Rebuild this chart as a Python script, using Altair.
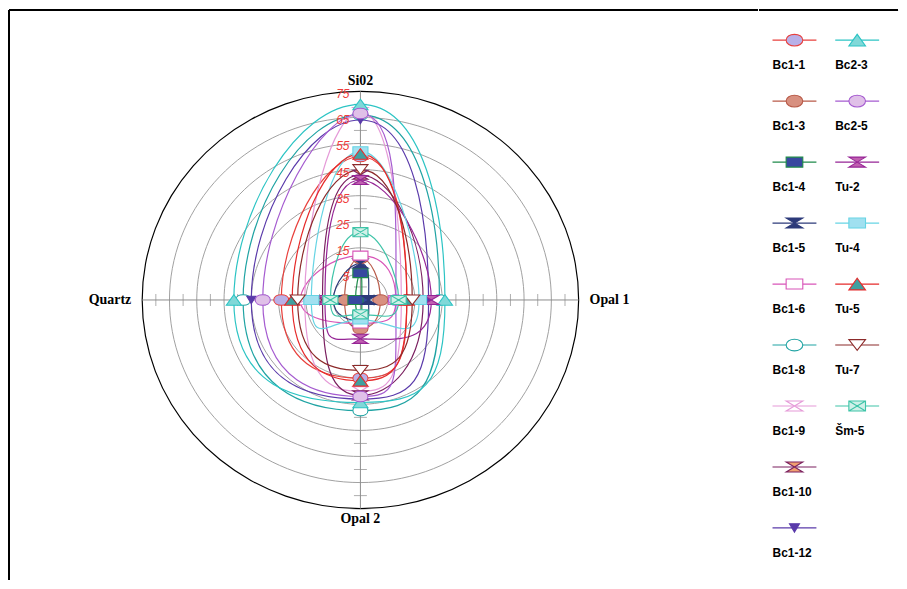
import altair as alt
import pandas as pd

# ---------------- data ----------------
series = ["Bc1-1", "Bc1-3", "Bc1-4", "Bc1-5", "Bc1-6", "Bc1-8", "Bc1-9", "Bc1-10", "Bc1-12",
          "Bc2-3", "Bc2-5", "Tu-2", "Tu-4", "Tu-5", "Tu-7", "Šm-5"]
sio2   = [50, 11, 5.3, 9, 12, 66, 67, 43, 64, 70, 66.5, 41, 52, 51, 45, 21]
opal1  = [12, 2.3, -4.5, -2, 8, 24, 10, 18, 20, 26, 8, 21, 16.5, 12, 14, 9]
opal2  = [25, 6, 1, 3, 4, 37.4, 30, 31.6, 33, 34.3, 32, 9.9, 2.5, 26, 22, 0.5]
quartz = [24, 0.8, -3.2, 4.9, 17, 38, 15.4, 8.9, 35, 41.4, 30.8, 8, 13, 20, 18, 6]

line_colors = ["#e8403c", "#b85a48", "#1e8a4a", "#2c3a7a", "#d855b8", "#1fa3a3", "#e59ad8",
               "#7a1f5f", "#5a3aaa", "#2cc4c4", "#a55bd0", "#962496", "#66d4e4", "#e62a2a",
               "#8c2a2a", "#3ec4a8"]
fill_colors = ["#b8b0e8", "#d89080", "#3848a0", "#2c3a7a", "#ffffff", "#ffffff", "#ffffff",
               "#f0a070", "#5a3aaa", "#80d8d8", "#e0c0e8", "#c060b0", "#a0e0f0", "#40a0a0",
               "#ffffff", "#d0f0e8"]

ELLIPSE = "M-1,0C-1,-0.93 1,-0.93 1,0C1,0.93 -1,0.93 -1,0Z"
RECT = "M-1,-0.6L1,-0.6L1,0.6L-1,0.6Z"
TRI_UP = "M-1,0.7L1,0.7L0,-0.7Z"
TRI_DOWN_S = "M-0.6,-0.5L0.6,-0.5L0,0.5Z"
TRI_DOWN = "M-1,-0.65L1,-0.65L0,0.65Z"
HOURGLASS = "M-1,-0.6L1,-0.6L-1,0.6L1,0.6Z"
RECT_X = "M-1,-0.6L1,-0.6L1,0.6L-1,0.6Z M-1,-0.6L1,0.6M1,-0.6L-1,0.6"
shapes = [ELLIPSE, ELLIPSE, RECT, HOURGLASS, RECT, ELLIPSE, HOURGLASS, HOURGLASS, TRI_DOWN_S,
          TRI_UP, ELLIPSE, HOURGLASS, RECT, TRI_UP, TRI_DOWN, RECT_X]

axis_names = ["Si02", "Opal 1", "Opal 2", "Quartz"]
axis_angles = [90, 0, 270, 180]
axis_align = ["center", "left", "center", "right"]

ring_values = [5, 15, 25, 35, 45, 55, 65, 75]
ring_labels = ["5", "15", "25", "35", "45", "55", "65", "75"]
ring_angles = list(range(0, 360, 10))
tick_values = [0, 10, 20, 30, 40, 50, 60, 70]
R0 = -5           # value at the centre
TITLE_R = 84      # radial position of axis titles (units from centre)

legend_col = [0] * 9 + [1] * 7
legend_row = list(range(9)) + list(range(7))

# ---------------- tables ----------------
rows = []
for i, s in enumerate(series):
    for k, vals in enumerate([sio2, opal1, opal2, quartz]):
        rows.append({"series": s, "k": k, "value": vals[i], "angle": axis_angles[k]})
df = pd.DataFrame(rows)

ring_df = pd.DataFrame([{"ring": r, "angle": a} for r in ring_values for a in ring_angles])
lab_df = pd.DataFrame({"ring": ring_values, "label": ring_labels})
umax = ring_values[-1] - R0
cross_df = pd.DataFrame({"x1": [-umax, 0], "x2": [umax, 0], "y1": [0, -umax], "y2": [0, umax]})
htick_df = pd.DataFrame({"t": [v - R0 for v in tick_values] + [-(v - R0) for v in tick_values]})
legend_df = pd.DataFrame({"series": series, "col": legend_col, "row": legend_row})

W, H = 752, 572
xs = alt.Scale(domain=[-128.83, 145.62], nice=False, zero=False)
ys = alt.Scale(domain=[-107.25, 111.07], nice=False, zero=False)
X = lambda f: alt.X(f, type="quantitative", scale=xs, axis=None)
Y = lambda f: alt.Y(f, type="quantitative", scale=ys, axis=None)

stroke_scale = alt.Scale(domain=series, range=line_colors)
fill_scale = alt.Scale(domain=series, range=fill_colors)
shape_scale = alt.Scale(domain=series, range=shapes)

polar_calc = dict(u=f"datum.value - ({R0})",
                  px="datum.u * cos(datum.angle * PI / 180)",
                  py="datum.u * sin(datum.angle * PI / 180)")

# rings
rings = alt.Chart(ring_df).transform_calculate(
    u=f"datum.ring - ({R0})",
    px="datum.u * cos(datum.angle * PI / 180)",
    py="datum.u * sin(datum.angle * PI / 180)",
).transform_filter(f"datum.ring < {ring_values[-1]}").mark_line(
    interpolate="cardinal-closed", stroke="#a0a0a0", strokeWidth=1
).encode(x=X("px"), y=Y("py"), detail="ring:N", order="angle:Q")

outer = alt.Chart(ring_df).transform_calculate(
    u=f"datum.ring - ({R0})",
    px="datum.u * cos(datum.angle * PI / 180)",
    py="datum.u * sin(datum.angle * PI / 180)",
).transform_filter(f"datum.ring == {ring_values[-1]}").mark_line(
    interpolate="cardinal-closed", stroke="#000000", strokeWidth=1.2
).encode(x=X("px"), y=Y("py"), detail="ring:N", order="angle:Q")

cross = alt.Chart(cross_df).mark_rule(stroke="#8c8c8c", strokeWidth=1).encode(
    x=X("x1"), x2="x2", y=Y("y1"), y2="y2")

hticks = alt.Chart(htick_df).mark_tick(orient="vertical", size=12, thickness=1, color="#8c8c8c").encode(
    x=X("t"), y=alt.Y("z:Q", scale=ys, axis=None)).transform_calculate(z="0")
vticks = alt.Chart(htick_df).mark_tick(orient="horizontal", size=13, thickness=1, color="#8c8c8c").encode(
    y=Y("t"), x=alt.X("z:Q", scale=xs, axis=None)).transform_calculate(z="0")

lines = alt.Chart(df).transform_calculate(**polar_calc).mark_line(
    interpolate="cardinal-closed", tension={"expr": "-0.78"}, strokeWidth=1.2
).encode(x=X("px"), y=Y("py"),
         stroke=alt.Stroke("series:N", scale=stroke_scale, legend=None),
         detail="series:N", order="k:Q")

markers = alt.Chart(df).transform_calculate(**polar_calc).mark_point(
    size=230, strokeWidth=1.1, opacity=1, fillOpacity=1
).encode(x=X("px"), y=Y("py"),
         shape=alt.Shape("series:N", scale=shape_scale, legend=None),
         fill=alt.Fill("series:N", scale=fill_scale, legend=None),
         stroke=alt.Stroke("series:N", scale=stroke_scale, legend=None))

rlabels = alt.Chart(lab_df).transform_calculate(u=f"datum.ring - ({R0})", z="0").mark_text(
    align="right", baseline="middle", dx=-11, dy=3, fontSize=12, fontStyle="italic",
    font="Liberation Sans", color="#f03c3c"
).encode(x=X("z"), y=Y("u"), text="label:N")

title_layers = []
for name, ang, al in zip(axis_names, axis_angles, axis_align):
    tdf = pd.DataFrame({"name": [name], "angle": [ang]})
    title_layers.append(
        alt.Chart(tdf).transform_calculate(
            px=f"{TITLE_R} * cos(datum.angle * PI / 180)",
            py=f"{TITLE_R} * sin(datum.angle * PI / 180)",
        ).mark_text(align=al, baseline="middle", fontSize=14, fontWeight="bold",
                    font="Liberation Serif", color="#000000")
        .encode(x=X("px"), y=Y("py"), text="name:N"))

frame_top = alt.Chart(legend_df).mark_rule(color="#000000", strokeWidth=1.5).encode(
    x=alt.value(0), x2=alt.value(W), y=alt.value(0))
frame_left = alt.Chart(legend_df).mark_rule(color="#000000", strokeWidth=1.5).encode(
    x=alt.value(0), y=alt.value(0), y2=alt.value(H))

polar = alt.layer(rings, outer, cross, hticks, vticks, lines, markers, rlabels, *title_layers,
                  frame_top, frame_left).properties(width=W, height=H)

# ---------------- legend panel ----------------
LW = 139
lx = alt.Scale(domain=[0, 1], range=[35, 98])
ly = alt.Scale(domain=[0, 8], range=[30, 520])
lbase = alt.Chart(legend_df).transform_calculate(xa="datum.col - 0.35", xb="datum.col + 0.35")
lrule = lbase.mark_rule(strokeWidth=1.2).encode(
    x=alt.X("xa:Q", scale=lx, axis=None), x2="xb:Q",
    y=alt.Y("row:Q", scale=ly, axis=None),
    stroke=alt.Stroke("series:N", scale=stroke_scale, legend=None))
lpoint = lbase.mark_point(size=280, strokeWidth=1.1, opacity=1, fillOpacity=1).encode(
    x=alt.X("col:Q", scale=lx, axis=None), y=alt.Y("row:Q", scale=ly, axis=None),
    shape=alt.Shape("series:N", scale=shape_scale, legend=None),
    fill=alt.Fill("series:N", scale=fill_scale, legend=None),
    stroke=alt.Stroke("series:N", scale=stroke_scale, legend=None))
ltext = lbase.mark_text(align="left", baseline="middle", dy=25, fontSize=12, fontWeight="bold",
                        font="Liberation Sans", color="#000000").encode(
    x=alt.X("xa:Q", scale=lx, axis=None), y=alt.Y("row:Q", scale=ly, axis=None), text="series:N")
ltop = alt.Chart(legend_df).mark_rule(color="#000000", strokeWidth=1.5).encode(
    x=alt.value(0), x2=alt.value(LW), y=alt.value(0))
legend = alt.layer(lrule, lpoint, ltext, ltop).properties(width=LW, height=H)

chart = alt.hconcat(polar, legend, spacing=0, padding=0).resolve_scale(
    x="independent", y="independent").configure_view(stroke=None)

chart.save("out.html", embed_options={"renderer": "svg", "actions": False})
